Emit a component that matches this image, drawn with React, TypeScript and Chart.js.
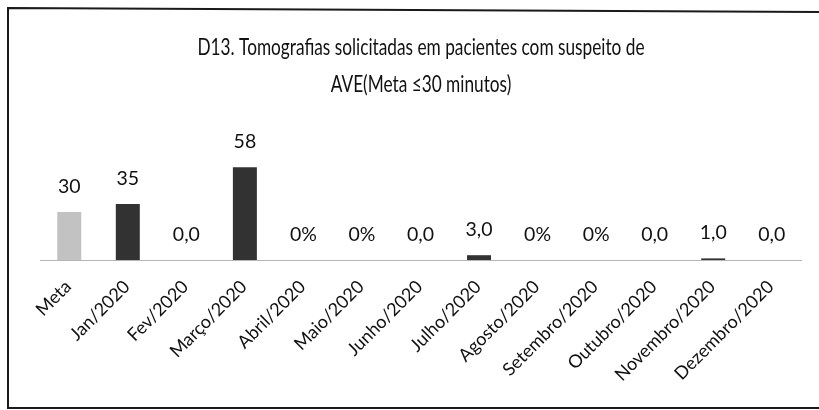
import React, { useEffect, useRef } from "react";
import { Chart, registerables } from "chart.js";

Chart.register(...registerables);

const categories = [
  "Meta", "Jan/2020", "Fev/2020", "Março/2020", "Abril/2020", "Maio/2020", "Junho/2020",
  "Julho/2020", "Agosto/2020", "Setembro/2020", "Outubro/2020", "Novembro/2020", "Dezembro/2020",
];
const values = [30, 35, 0, 58, 0, 0, 0, 3, 0, 0, 0, 1, 0];
const valueLabels = ["30", "35", "0,0", "58", "0%", "0%", "0,0", "3,0", "0%", "0%", "0,0", "1,0", "0,0"];
const titleLines = ["D13. Tomografias solicitadas em pacientes com suspeito de", "AVE(Meta ≤30 minutos)"];

const FONT = "Lato, 'Open Sans', sans-serif";

const framePlugin = {
  id: "frame",
  beforeDraw(chart: any) {
    const { ctx, width } = chart;
    ctx.save();
    ctx.fillStyle = "#ffffff";
    ctx.fillRect(0, 0, chart.width, chart.height);
    ctx.strokeStyle = "#1a1a1a";
    ctx.lineWidth = 2;
    ctx.beginPath();
    ctx.moveTo(width + 5, 12);
    ctx.lineTo(8, 8);
    ctx.lineTo(8, 408);
    ctx.lineTo(width + 5, 408);
    ctx.stroke();
    ctx.restore();
  },
  afterDraw(chart: any) {
    const { ctx } = chart;
    ctx.save();
    ctx.fillStyle = "#111";
    ctx.textAlign = "center";
    ctx.textBaseline = "alphabetic";
    ctx.font = `23px ${FONT}`;
    const sx = 0.75;
    ctx.save();
    ctx.scale(sx, 1);
    ctx.fillText(titleLines[0], 421 / sx, 55);
    ctx.fillText(titleLines[1], 421 / sx, 92);
    ctx.restore();
    const meta = chart.getDatasetMeta(0);
    ctx.font = `19.5px ${FONT}`;
    ctx.textBaseline = "bottom";
    meta.data.forEach((bar: any, i: number) => {
      ctx.fillText(valueLabels[i], bar.x, bar.y - 16);
    });
    ctx.restore();
  },
};

export default function App() {
  const ref = useRef<HTMLCanvasElement>(null);
  useEffect(() => {
    document.body.style.margin = "0";
    const chart = new Chart(ref.current!, {
      type: "bar",
      data: {
        labels: categories,
        datasets: [
          {
            data: values,
            backgroundColor: values.map((_, i) => (i === 0 ? "#c2c2c2" : "#323232")),
            barPercentage: 0.41,
            categoryPercentage: 1,
          },
        ],
      },
      options: {
        animation: false,
        responsive: false,
        layout: { padding: { left: 40, right: 18, top: 148, bottom: 0 } },
        plugins: { legend: { display: false }, tooltip: { enabled: false }, title: { display: false } },
        scales: {
          y: { display: false, min: 0, max: 70 },
          x: {
            grid: { display: false },
            border: { display: true, color: "#b5b5b5", dash: [2, 3], width: 1 },
            ticks: {
              minRotation: 45,
              maxRotation: 45,
              color: "#111",
              font: { family: FONT, size: 18 },
              padding: 8,
              labelOffset: -1,
            },
            afterFit(scale: any) {
              scale.height = 150;
            },
          },
        },
      },
      plugins: [framePlugin],
    });
    return () => chart.destroy();
  }, []);
  return <canvas ref={ref} width={819} height={410} style={{ display: "block" }} />;
}
